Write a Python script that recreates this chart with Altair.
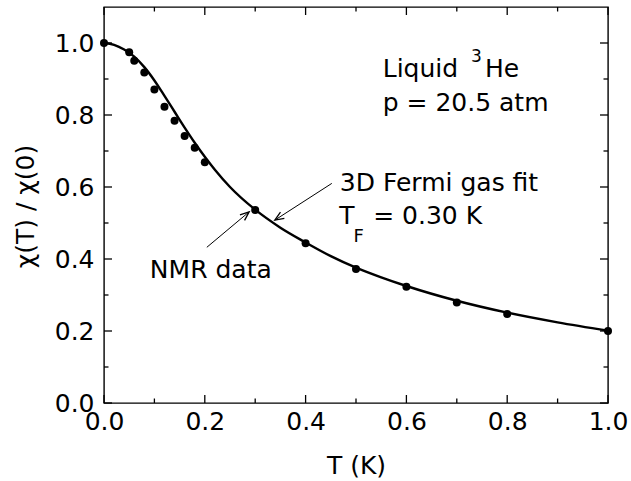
import math
import altair as alt
import pandas as pd

# plot-area size in pixels and y range
W, H = 504, 396
Y_MAX = 1.1
FONT = "DejaVu Sans"
TICK_COLOR = "black"

# NMR susceptibility of liquid 3He, normalised to T = 0
t_data = [0.0, 0.05, 0.06, 0.08, 0.10, 0.12, 0.14, 0.16, 0.18, 0.20,
          0.30, 0.40, 0.50, 0.60, 0.70, 0.80, 1.00]
chi_data = [1.000, 0.974, 0.951, 0.918, 0.871, 0.823, 0.784, 0.742, 0.709, 0.669,
            0.536, 0.444, 0.372, 0.323, 0.279, 0.247, 0.200]

# 3D Fermi gas fit (T_F = 0.30 K)
t_fit = [0.00, 0.02, 0.04, 0.06, 0.08, 0.10, 0.12, 0.14, 0.16, 0.18, 0.20, 0.22,
         0.25, 0.30, 0.35, 0.40, 0.45, 0.50, 0.55, 0.60, 0.70, 0.80, 0.90, 1.00]
chi_fit = [1.000, 0.995, 0.982, 0.962, 0.933, 0.896, 0.853, 0.809, 0.765, 0.723, 0.684, 0.648,
           0.600, 0.537, 0.487, 0.446, 0.408, 0.376, 0.349, 0.325, 0.284, 0.251, 0.224, 0.201]

# axis ticks
x_major = [0.0, 0.2, 0.4, 0.6, 0.8, 1.0]
x_minor = [0.1, 0.3, 0.5, 0.7, 0.9]
y_major = [0.0, 0.2, 0.4, 0.6, 0.8, 1.0]
y_minor = [0.1, 0.3, 0.5, 0.7, 0.9]
MAJOR_LEN, MINOR_LEN = 8, 4.5

# annotation texts: left edge / baseline in data units
ann_text = ["Liquid", "3", "He", "p = 20.5 atm", "3D Fermi gas fit", "T", "F", "= 0.30 K", "NMR data"]
ann_t = [0.553, 0.728, 0.756, 0.553, 0.468, 0.467, 0.495, 0.534, 0.091]
ann_chi = [0.905, 0.947, 0.905, 0.810, 0.590, 0.497, 0.448, 0.497, 0.346]
ann_size = [25, 17, 25, 25, 25, 25, 18, 25, 25]

# arrows: tail -> head
arr_t = [0.204, 0.452]
arr_chi = [0.4325, 0.610]
arr_t2 = [0.288, 0.339]
arr_chi2 = [0.531, 0.508]

data_df = pd.DataFrame({"T": t_data, "chi": chi_data})
fit_df = pd.DataFrame({"T": t_fit, "chi": chi_fit})
text_df = pd.DataFrame({"T": ann_t, "chi": ann_chi, "label": ann_text, "fs": ann_size})
arrow_df = pd.DataFrame({"T": arr_t, "chi": arr_chi, "T2": arr_t2, "chi2": arr_chi2})
# heading of each arrow on screen (clockwise from up)
arrow_df["ang"] = [
    math.degrees(math.atan2((b - a) * W, (d - c) * H / Y_MAX)) % 360
    for a, b, c, d in zip(arr_t, arr_t2, arr_chi, arr_chi2)
]

# inward tick segments on all four edges, lengths turned from pixels into data units
dy_px = Y_MAX / H
dx_px = 1.0 / W
xt_rows, yt_rows = [], []
for vals, ln in ((x_major, MAJOR_LEN), (x_minor, MINOR_LEN)):
    for v in vals:
        xt_rows.append({"v": v, "a": 0.0, "b": ln * dy_px})
        xt_rows.append({"v": v, "a": Y_MAX, "b": Y_MAX - ln * dy_px})
for vals, ln in ((y_major, MAJOR_LEN), (y_minor, MINOR_LEN)):
    for v in vals:
        yt_rows.append({"v": v, "a": 0.0, "b": ln * dx_px})
        yt_rows.append({"v": v, "a": 1.0, "b": 1.0 - ln * dx_px})
xtick_df = pd.DataFrame(xt_rows)
ytick_df = pd.DataFrame(yt_rows)

xs = alt.Scale(domain=[0, 1], nice=False, zero=False)
ys = alt.Scale(domain=[0, Y_MAX], nice=False, zero=False)

curve = alt.Chart(fit_df).mark_line(color="black", strokeWidth=2.4, interpolate="monotone").encode(
    x=alt.X("T:Q", scale=xs, axis=alt.Axis(
        orient="bottom", values=x_major, format=".1f", title="T (K)",
        ticks=False, domain=False, grid=False, labelPadding=6, labelFlush=False,
        titleX=W / 2, titleY=62, titleBaseline="middle", titleAlign="center")),
    y=alt.Y("chi:Q", scale=ys, axis=alt.Axis(
        orient="left", values=y_major, format=".1f", title="χ(T) / χ(0)",
        ticks=False, domain=False, grid=False, labelPadding=10, labelFlush=False,
        titleX=-79, titleY=199, titleAngle=270, titleBaseline="middle", titleAlign="center")),
)

xticks = alt.Chart(xtick_df).mark_rule(color=TICK_COLOR, strokeWidth=1.3).encode(
    x=alt.X("v:Q", scale=xs, axis=None),
    y=alt.Y("a:Q", scale=ys, axis=None),
    y2="b:Q",
)

yticks = alt.Chart(ytick_df).mark_rule(color=TICK_COLOR, strokeWidth=1.3).encode(
    y=alt.Y("v:Q", scale=ys, axis=None),
    x=alt.X("a:Q", scale=xs, axis=None),
    x2="b:Q",
)

points = alt.Chart(data_df).mark_circle(color="black", opacity=1, size=64).encode(
    x=alt.X("T:Q", scale=xs, axis=None),
    y=alt.Y("chi:Q", scale=ys, axis=None),
)

arrows = alt.Chart(arrow_df).mark_rule(color="black", strokeWidth=1).encode(
    x=alt.X("T:Q", scale=xs, axis=None),
    y=alt.Y("chi:Q", scale=ys, axis=None),
    x2="T2:Q",
    y2="chi2:Q",
)

heads = alt.Chart(arrow_df).mark_point(
    shape="M -0.4 1 L 0 0 L 0.4 1", filled=False, color="black",
    strokeWidth=1.3, size=324, opacity=1,
).encode(
    x=alt.X("T2:Q", scale=xs, axis=None),
    y=alt.Y("chi2:Q", scale=ys, axis=None),
    angle=alt.Angle("ang:Q", scale=None),
)

labels = alt.Chart(text_df).mark_text(
    align="left", baseline="alphabetic", font=FONT, color="black",
).encode(
    x=alt.X("T:Q", scale=xs, axis=None),
    y=alt.Y("chi:Q", scale=ys, axis=None),
    text="label:N",
    size=alt.Size("fs:Q", scale=None, legend=None),
)

chart = alt.layer(
    curve, xticks, yticks, arrows, heads, points, labels,
).resolve_axis(
    x="independent", y="independent"
).properties(
    width=W, height=H,
    autosize=alt.AutoSizeParams(type="none"),
    padding={"left": 104, "top": 7, "right": 23, "bottom": 78},
    background="white",
).configure_view(
    stroke="black", strokeWidth=1.4,
).configure_axis(
    labelFont=FONT, labelFontSize=25, labelColor="black",
    titleFont=FONT, titleFontSize=25, titleFontWeight="normal", titleColor="black",
)

chart.save("out.html", embed_options={"renderer": "svg", "actions": False})
